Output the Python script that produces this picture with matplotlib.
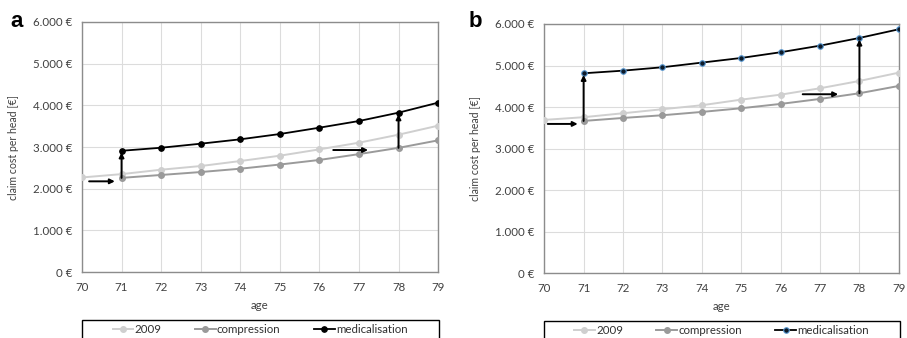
import numpy as np
import matplotlib
matplotlib.use("Agg")
import matplotlib.pyplot as plt
from matplotlib.patches import Rectangle
from matplotlib.ticker import FuncFormatter

plt.rcParams['font.family'] = ['Lato', 'DejaVu Sans']

ages = [70, 71, 72, 73, 74, 75, 76, 77, 78, 79]

# scenario a
a_2009 = [2270, 2350, 2456, 2544, 2664, 2792, 2944, 3104, 3296, 3512]
a_compression = [None, 2260, 2330, 2400, 2480, 2580, 2690, 2830, 2980, 3160]
a_medicalisation = [None, 2910, 2983, 3080, 3185, 3312, 3464, 3624, 3824, 4064]

# scenario b
b_2009 = [3690, 3755, 3850, 3947, 4043, 4178, 4298, 4452, 4628, 4828]
b_compression = [None, 3665, 3737, 3802, 3882, 3971, 4075, 4195, 4332, 4508]
b_medicalisation = [None, 4813, 4876, 4958, 5070, 5182, 5320, 5478, 5664, 5873]

# horizontal shift arrows (x start, x end, y) and ages with upward jumps
a_shift = [(70.18, 70.83, 2177), (76.35, 77.23, 2928)]
b_shift = [(70.09, 70.85, 3593), (76.56, 77.46, 4308)]
jump_ages = [71, 78]

light = '#cfcfcf'
mid = '#9a9a9a'


def euro(v, pos):
    return '{:,.0f} €'.format(v).replace(',', '.')


def to_arr(vals):
    return np.array([np.nan if v is None else v for v in vals], dtype=float)


def panel(ax, s09, comp, med, shifts, med_face, med_edge, letter, letter_x):
    x = np.array(ages)
    ax.plot(x, to_arr(s09), color=light, lw=1.4, marker='o', ms=4,
            mfc=light, mec=light, label='2009', zorder=3)
    ax.plot(x, to_arr(comp), color=mid, lw=1.4, marker='o', ms=4,
            mfc=mid, mec=mid, label='compression', zorder=3)
    ax.plot(x, to_arr(med), color='black', lw=1.3, marker='o', ms=4,
            mfc=med_face, mec=med_edge, mew=0.8, label='medicalisation', zorder=4)

    arrow = dict(arrowstyle='-|>', color='black', lw=1.4,
                 mutation_scale=7, shrinkA=0, shrinkB=0)
    for age in jump_ages:
        i = ages.index(age)
        ax.annotate('', xy=(age, med[i] - 40), xytext=(age, comp[i]),
                    arrowprops=arrow, zorder=5)
    for x0, x1, y in shifts:
        ax.annotate('', xy=(x1, y), xytext=(x0, y), arrowprops=arrow, zorder=5)

    ax.set_xlim(70, 79)
    ax.set_ylim(0, 6000)
    ax.set_xticks(ages)
    ax.set_yticks(range(0, 6001, 1000))
    ax.yaxis.set_major_formatter(FuncFormatter(euro))
    ax.grid(True, color='#dcdcdc', lw=0.8)
    ax.set_axisbelow(True)
    ax.tick_params(length=0, labelsize=8.3, colors='#404040', pad=7)
    for sp in ax.spines.values():
        sp.set_color('#8c8c8c')
        sp.set_linewidth(1.0)
    ax.set_xlabel('age', fontsize=8.3, color='#404040', labelpad=5)
    ax.set_ylabel('claim cost per head [€]', fontsize=7.6, color='#404040', labelpad=10)

    # legend box spans the plot width below the axis title
    ax.add_patch(Rectangle((0, -0.30), 1.003, 0.108, transform=ax.transAxes,
                           fill=False, edgecolor='black', lw=1.0, clip_on=False))
    leg = ax.legend(loc='upper center', bbox_to_anchor=(0.5, -0.192),
                    ncol=3, fontsize=8.3, frameon=False, handlelength=1.8,
                    handletextpad=0.1, columnspacing=2.9, borderpad=0.35,
                    borderaxespad=0)
    for t in leg.get_texts():
        t.set_color('#303030')

    ax.figure.text(letter_x, 0.920, letter, fontsize=16, fontweight='bold',
                   family='Liberation Sans', ha='left', va='baseline')


fig = plt.figure(figsize=(9.07, 3.38), dpi=100)
ax_a = fig.add_axes([0.0904, 0.195, 0.3926, 0.740])
ax_b = fig.add_axes([0.600, 0.192, 0.391, 0.737])

panel(ax_a, a_2009, a_compression, a_medicalisation, a_shift,
      'black', 'black', 'a', 0.011)
panel(ax_b, b_2009, b_compression, b_medicalisation, b_shift,
      '#0d1b2a', '#5b9bd5', 'b', 0.517)

fig.savefig('out.png', dpi=100)
